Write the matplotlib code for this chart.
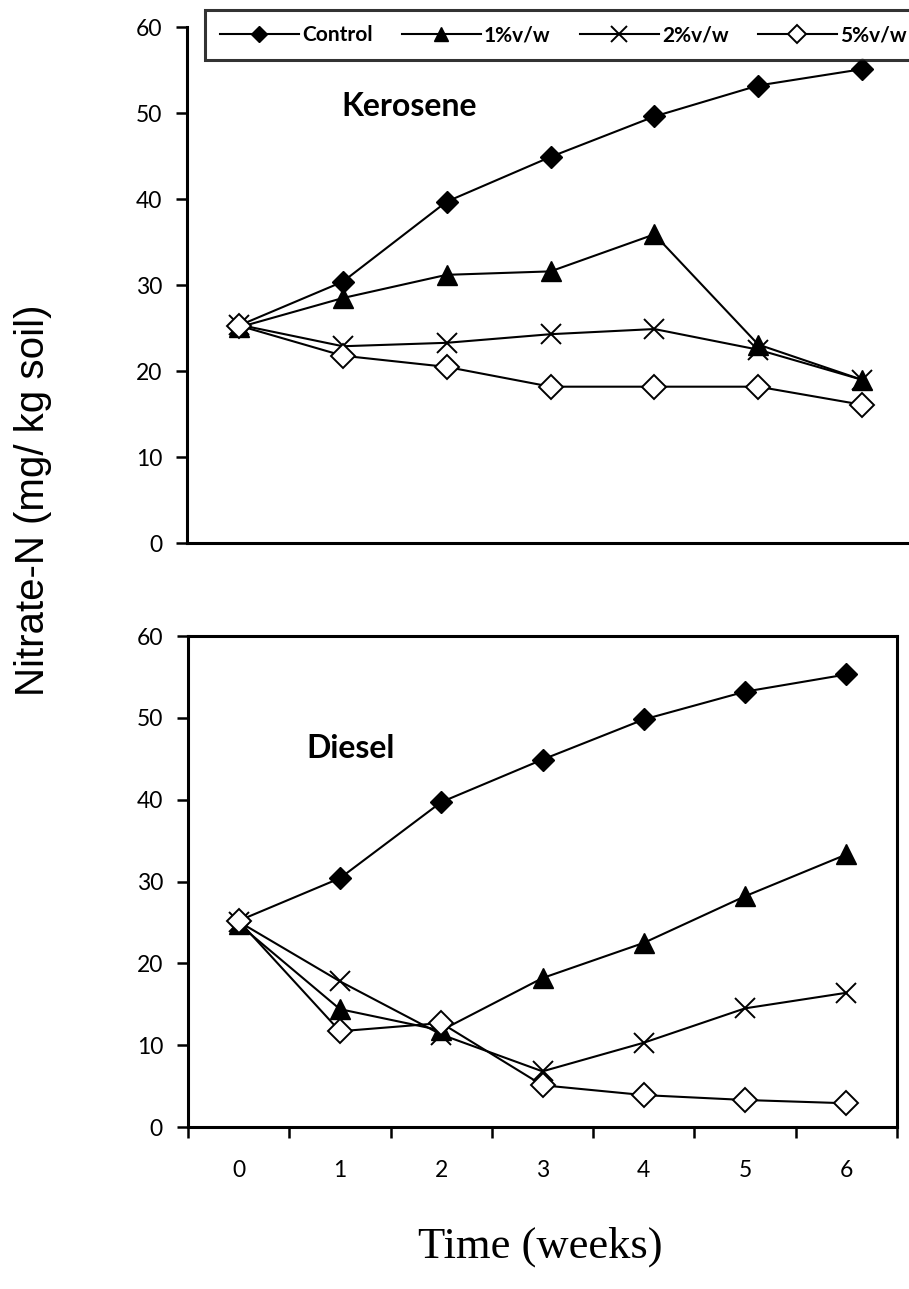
import matplotlib
matplotlib.use('Agg')
import matplotlib.pyplot as plt

weeks = [0, 1, 2, 3, 4, 5, 6]
series_names = ['Control', '1%v/w', '2%v/w', '5%v/w']

ker_control = [25.3, 30.4, 39.7, 44.9, 49.6, 53.2, 55.1]
ker_1 = [25.1, 28.5, 31.2, 31.6, 35.9, 23.1, 19.0]
ker_2 = [25.4, 22.9, 23.3, 24.3, 24.9, 22.5, 19.0]
ker_5 = [25.3, 21.8, 20.5, 18.2, 18.2, 18.2, 16.1]

die_control = [25.2, 30.4, 39.7, 44.9, 49.8, 53.2, 55.3]
die_1 = [24.8, 14.4, 11.8, 18.2, 22.5, 28.2, 33.3]
die_2 = [25.1, 17.8, 11.3, 6.8, 10.3, 14.5, 16.4]
die_5 = [25.2, 11.7, 12.7, 5.1, 3.9, 3.3, 2.9]

y_ticks = [0, 10, 20, 30, 40, 50, 60]

W, H = 909, 1289
fig = plt.figure(figsize=(W / 100, H / 100), dpi=100)

tick_font = {'family': 'Lato', 'size': 16.5}

styles = [
    dict(marker='D', markersize=11.5, markerfacecolor='black', markeredgecolor='black'),
    dict(marker='^', markersize=14, markerfacecolor='black', markeredgecolor='black'),
    dict(marker='x', markersize=15, markeredgewidth=1.4, markeredgecolor='black'),
    dict(marker='D', markersize=12, markerfacecolor='white', markeredgecolor='black', markeredgewidth=1.4),
]


def fpos(left, right, top, bottom):
    return [left / W, 1 - bottom / H, (right - left) / W, (bottom - top) / H]


ax1 = fig.add_axes(fpos(187, 914, 27, 543.3))
ax2 = fig.add_axes(fpos(188, 897, 636, 1127))

handles = []
for ax, data in ((ax1, [ker_control, ker_1, ker_2, ker_5]),
                 (ax2, [die_control, die_1, die_2, die_5])):
    for name, vals, st in zip(series_names, data, styles):
        h, = ax.plot(weeks, vals, color='black', linewidth=1.5, label=name,
                     clip_on=False, zorder=3, **st)
        if ax is ax1:
            handles.append(h)
    ax.set_xlim(-0.5, 6.5)
    ax.set_ylim(0, 60)
    ax.set_yticks(y_ticks)
    ax.set_yticklabels([str(v) for v in y_ticks], fontdict=tick_font)
    ax.tick_params(axis='y', direction='out', length=8, width=1.8, pad=10)
    for s in ax.spines.values():
        s.set_linewidth(2.2)

# top panel: only left and bottom spines, no x ticks
ax1.spines['top'].set_visible(False)
ax1.spines['right'].set_visible(False)
ax1.set_xticks([])

# bottom panel: category axis with ticks between categories
ax2.set_xticks(weeks)
ax2.set_xticklabels([str(w) for w in weeks], fontdict=tick_font)
ax2.set_xticks([w - 0.5 for w in weeks] + [6.5], minor=True)
ax2.tick_params(axis='x', which='major', length=0, pad=24)
ax2.tick_params(axis='x', which='minor', direction='out', length=8, width=1.8)

fig.text(409 / W, 1 - 107 / H, 'Kerosene', ha='center', va='center',
         fontsize=23, fontweight='bold', family='Lato')
fig.text(351 / W, 1 - 748 / H, 'Diesel', ha='center', va='center',
         fontsize=23, fontweight='bold', family='Lato')

fig.text(33 / W, 1 - 500 / H, 'Nitrate-N (mg/ kg soil)', rotation=90,
         ha='center', va='center', fontsize=29, family='Liberation Sans')
fig.text(540 / W, 1 - 1247 / H, 'Time (weeks)', ha='center', va='center',
         fontsize=32, family='Liberation Serif')

leg = fig.legend(handles=handles, labels=series_names, ncol=4,
                 loc='center left',
                 bbox_to_anchor=(205 / W, 1 - 35 / H),
                 frameon=True, fancybox=False, edgecolor='black',
                 prop={'family': 'Lato', 'weight': 'bold', 'size': 15},
                 handlelength=3.8, handletextpad=0.15, columnspacing=1.4,
                 borderpad=0.7, borderaxespad=0, numpoints=1, markerscale=0.75)
leg.get_frame().set_linewidth(2.2)

fig.savefig('out.png', dpi=100)
